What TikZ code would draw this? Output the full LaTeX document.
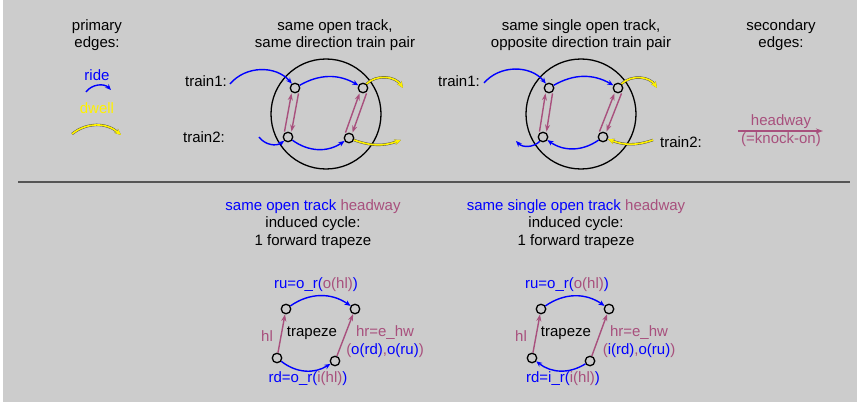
\documentclass[tikz,border=0pt]{standalone}
\usepackage{fontspec}
\setmainfont{Liberation Sans}
\usetikzlibrary{arrows.meta}
\definecolor{bggray}{HTML}{CCCCCC}
\definecolor{hdw}{RGB}{168,80,125}
\definecolor{sepgray}{HTML}{555555}

\begin{document}
\begin{tikzpicture}[x=1pt, y=1pt,
        every node/.style={font=\fontsize{15}{17.5}\selectfont},
        ev/.style={circle, draw=black, line width=1.3pt, inner sep=0pt, minimum size=9.5pt},
        ride/.style={blue, line width=1.4pt, -{Stealth[length=6pt,width=5pt]}},
        dwell/.style={yellow, line width=1.6pt, -{Stealth[length=6.5pt,width=5.5pt]},
            preaction={draw=gray!55!black, line width=2.4pt}},
        hway/.style={hdw, line width=1.4pt, -{Stealth[length=7pt,width=5pt]}}]
        % Background
        \useasboundingbox (0,0) rectangle (863,-404);
        \fill[white] (0,0) rectangle (863,-404);
        \fill[bggray] (3,0) rectangle (857,-402);
        \draw[sepgray, line width=1.4pt] (18,-182) -- (850,-182);

        % Legend: primary edges
        \node[align=center] (prim) at (97,-35) {primary\\edges:};
        \node[blue] (ridelbl) at (97,-75) {ride};
        \coordinate (r1) at (86,-92);
        \coordinate (r2) at (111,-90);
        \draw[ride] (r1) to[bend left=50] (r2);
        \node[yellow] (dwelllbl) at (97,-108) {dwell};
        \coordinate (d1) at (72,-134);
        \coordinate (d2) at (121,-135);
        \draw[dwell] (d1) to[bend left=40] (d2);

        % Same open track, same direction
        \node[align=center] (titleL) at (335,-35) {same open track,\\same direction train pair};
        \draw[black, line width=1.3pt] (326,-114) circle (55);
        \node (tr1L) at (206,-81) {train1:};
        \node (tr2L) at (204,-137) {train2:};
        \node[ev] (Lt1a) at (295,-88) {};
        \node[ev] (Lt1b) at (363,-88) {};
        \node[ev] (Lt2a) at (288,-137) {};
        \node[ev] (Lt2b) at (349,-138) {};
        \coordinate (Lin1) at (230,-84);
        \coordinate (Lout1) at (403,-88);
        \coordinate (Lin2) at (259,-137);
        \coordinate (Lout2) at (401,-140);
        \draw[ride] (Lin1) to[bend left=50] (Lt1a);
        \draw[ride] (Lt1a) to[bend left=30] (Lt1b);
        \draw[dwell] (Lt1b) to[bend left=50] (Lout1);
        \draw[ride] (Lin2) to[bend right=45] (Lt2a);
        \draw[ride] (Lt2a) to[bend right=35] (Lt2b);
        \draw[dwell] (Lt2b) to[bend right=20] (Lout2);
        \draw[hway] ([xshift=-3.5pt]Lt2a.north) -- ([xshift=-3.5pt]Lt1a.south);
        \draw[hway] ([xshift=3.5pt]Lt1a.south) -- ([xshift=3.5pt]Lt2a.north);
        \draw[hway] ([xshift=-3.5pt]Lt2b.north) -- ([xshift=-3.5pt]Lt1b.south);
        \draw[hway] ([xshift=3.5pt]Lt1b.south) -- ([xshift=3.5pt]Lt2b.north);

        % Same single open track, opposite direction
        \node[align=center] (titleR) at (581,-35) {same single open track,\\opposite direction train pair};
        \draw[black, line width=1.3pt] (581,-114) circle (55);
        \node (tr1R) at (459,-81) {train1:};
        \node (tr2R) at (681,-142) {train2:};
        \node[ev] (Rt1a) at (549,-88) {};
        \node[ev] (Rt1b) at (618,-88) {};
        \node[ev] (Rt2a) at (543,-137) {};
        \node[ev] (Rt2b) at (603,-137) {};
        \coordinate (Rin1) at (484,-83);
        \coordinate (Rout1) at (657,-88);
        \coordinate (Rin2) at (653,-140);
        \coordinate (Rout2) at (516,-141);
        \draw[ride] (Rin1) to[bend left=50] (Rt1a);
        \draw[ride] (Rt1a) to[bend left=30] (Rt1b);
        \draw[dwell] (Rt1b) to[bend left=50] (Rout1);
        \draw[dwell] (Rin2) to[bend left=20] (Rt2b);
        \draw[ride] (Rt2b) to[bend left=35] (Rt2a);
        \draw[ride] (Rt2a) to[bend left=45] (Rout2);
        \draw[hway] ([xshift=-3.5pt]Rt2a.north) -- ([xshift=-3.5pt]Rt1a.south);
        \draw[hway] ([xshift=3.5pt]Rt1a.south) -- ([xshift=3.5pt]Rt2a.north);
        \draw[hway] ([xshift=-3.5pt]Rt2b.north) -- ([xshift=-3.5pt]Rt1b.south);
        \draw[hway] ([xshift=3.5pt]Rt1b.south) -- ([xshift=3.5pt]Rt2b.north);

        % Legend: secondary edges
        \node[align=center] (sec) at (781,-35) {secondary\\edges:};
        \coordinate (hw1) at (738,-131);
        \coordinate (hw2) at (823,-131);
        \draw[hway] (hw1) -- (hw2);
        \node[hdw] (hwlbl) at (781,-122) {headway};
        \node[hdw] (kolbl) at (781,-140) {(=knock-on)};

        % Induced cycle, same open track
        \node[align=center] (cycC) at (313,-224)
            {\textcolor{blue}{same open track} \textcolor{hdw}{headway}\\induced cycle:\\1 forward trapeze};
        \node[ev] (Cul) at (286,-309) {};
        \node[ev] (Cur) at (355,-309) {};
        \node[ev] (Cdl) at (277,-358) {};
        \node[ev] (Cdr) at (335,-361) {};
        \draw[ride] (Cul) to[bend left=35] (Cur);
        \draw[ride] (Cdl) to[bend right=35] (Cdr);
        \draw[hway] (Cdl) -- (Cul);
        \draw[hway] (Cdr) -- (Cur);
        \node[blue] (ruC) at (316,-285) {ru=o\_r(\textcolor{hdw}{o(hl)})};
        \node[hdw] (hlC) at (267,-336) {hl};
        \node (trC) at (312,-333) {trapeze};
        \node[hdw] (hrC) at (385,-333) {hr=e\_hw};
        \node[blue] (hrxC) at (385,-351) {\textcolor{hdw}{(}o(rd)\textcolor{hdw}{,}o(ru)\textcolor{hdw}{)}};
        \node[blue] (rdC) at (308,-379) {rd=o\_r(\textcolor{hdw}{i(hl)})};

        % Induced cycle, same single open track
        \node[align=center] (cycD) at (576,-224)
            {\textcolor{blue}{same single open track} \textcolor{hdw}{headway}\\induced cycle:\\1 forward trapeze};
        \node[ev] (Dul) at (541,-309) {};
        \node[ev] (Dur) at (609,-309) {};
        \node[ev] (Ddl) at (532,-358) {};
        \node[ev] (Ddr) at (590,-361) {};
        \draw[ride] (Dul) to[bend left=35] (Dur);
        \draw[ride] (Ddr) to[bend left=35] (Ddl);
        \draw[hway] (Ddl) -- (Dul);
        \draw[hway] (Ddr) -- (Dur);
        \node[blue] (ruD) at (567,-285) {ru=o\_r(\textcolor{hdw}{o(hl)})};
        \node[hdw] (hlD) at (521,-336) {hl};
        \node (trD) at (566,-333) {trapeze};
        \node[hdw] (hrD) at (639,-333) {hr=e\_hw};
        \node[blue] (hrxD) at (639,-351) {\textcolor{hdw}{(}i(rd)\textcolor{hdw}{,}o(ru)\textcolor{hdw}{)}};
        \node[blue] (rdD) at (563,-379) {rd=i\_r(\textcolor{hdw}{i(hl)})};
    \end{tikzpicture}
\end{document}
